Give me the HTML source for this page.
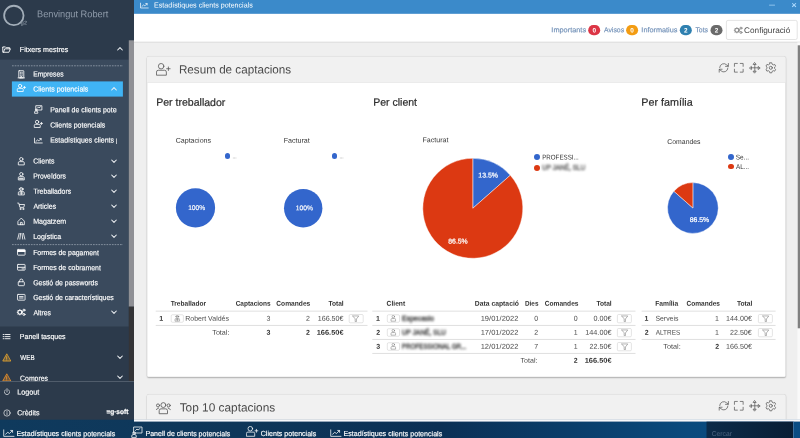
<!DOCTYPE html>
<html lang="ca"><head><meta charset="utf-8"><title>Estadístiques clients potencials</title>
<style>
html,body{margin:0;padding:0;width:800px;height:438px;overflow:hidden;background:#efefef}
body{font-family:"Liberation Sans",sans-serif;position:relative}
.a{position:absolute}
.t{position:absolute;white-space:nowrap;line-height:1}
.blur{filter:blur(1px);-webkit-text-stroke:0.4px currentColor}
.m{-webkit-text-stroke:0.15px currentColor}
.m2{-webkit-text-stroke:0.22px currentColor}
svg{position:absolute;overflow:visible}
.ic{filter:blur(.28px)}
</style></head><body>
<svg style="left:134px;top:0px" width="666" height="422"><rect x="0" y="0" width="666" height="422" fill="#efefef" /></svg><svg style="left:0px;top:0px" width="134" height="422"><rect x="0" y="0" width="134" height="422" fill="#2c3a4b" /></svg><svg style="left:0px;top:59px" width="129" height="268"><rect x="0" y="0.6" width="128.8" height="266.9" fill="#3a4a5d" /></svg><svg style="left:128px;top:40px" width="6" height="267"><rect x="0.8" y="0.3" width="5.2" height="266.4" fill="#8f9095" /></svg><svg style="left:128px;top:306px" width="6" height="76"><rect x="0.8" y="0.7" width="5.2" height="74.8" fill="#343437" /></svg><svg style="left:134px;top:0px" width="666" height="14"><rect x="0" y="0" width="666" height="13.9" fill="#3b8aca" /></svg><svg style="left:134px;top:13px" width="666" height="29"><rect x="0" y="0.9" width="666" height="27.9" fill="#fff" /></svg><svg style="left:134px;top:41px" width="666" height="2"><rect x="0" y="0.8" width="666" height="0.6" fill="#d0d0d0" /></svg><svg style="left:0;top:0" width="32" height="32"><circle cx="13.85" cy="15.45" r="9.7" fill="none" stroke="#a3aeb9" stroke-width="1.8"/></svg><span class="t" style="font-size:5.5px;top:23px;color:#7f8b98;font-weight:700;left:24px;transform:translate(calc(-50% + -0.20px),-2.40px) scaleX(1.000) rotate(.03deg);">g2</span><span class="t" style="font-size:9.8px;top:14px;color:#8f9baa;left:38px;transform-origin:0 50%;transform:translate(-0.95px,-4.75px) scaleX(0.941) rotate(.03deg);">Benvingut Robert</span><svg style="left:1.9px;top:44.6px" width="9.2" height="9.2" viewBox="0 0 24 24" class="ic" ><g fill="none" color="#ffffff" stroke="#ffffff" stroke-width="2.3" stroke-linecap="round" stroke-linejoin="round"><path d="M2 7v12h16l4-9H7l-3 9M2 7V5h7l2 2h9v3"/></g></svg><span class="t m" style="font-size:7.3px;top:49px;color:#ffffff;left:20px;transform-origin:0 50%;transform:translate(-0.15px,-3.00px) scaleX(0.971) rotate(.03deg);">Fitxers mestres</span><svg style="left:116.3px;top:44.5px" width="8" height="8" viewBox="0 0 24 24" class="ic" ><g fill="none" color="#f0f3f6" stroke="#f0f3f6" stroke-width="3.1" stroke-linecap="round" stroke-linejoin="round"><path d="M5 15l7-7 7 7"/></g></svg><svg style="left:12px;top:64px" width="111" height="3"><line x1="0" y1="1.80" x2="111" y2="1.80" stroke="#a3adba" stroke-width="0.7" stroke-dasharray="1.7 1"/></svg><svg style="left:16.7px;top:69.5px" width="8.6" height="8.6" viewBox="0 0 24 24" class="ic" ><g fill="none" color="#ffffff" stroke="#ffffff" stroke-width="2.3" stroke-linecap="round" stroke-linejoin="round"><rect x="5" y="2" width="14" height="20" rx="1"/><path d="M9 6.500h1.500M13.500 6.500h1.500M9 10.500h1.500M13.500 10.500h1.500M9 14.500h1.500M13.500 14.500h1.500M10 22v-3.500h4v3.500M3 22h18"/></g></svg><span class="t m" style="font-size:7.3px;top:74px;color:#ffffff;left:34px;transform-origin:0 50%;transform:translate(-0.85px,-3.40px) scaleX(0.927) rotate(.03deg);">Empreses</span><svg style="left:11px;top:81px" width="112" height="16"><rect x="0.9" y="0.4" width="111" height="15.2" fill="#40b4f5" /></svg><svg style="left:16.7px;top:84.4px" width="8.6" height="8.6" viewBox="0 0 24 24" class="ic" ><g fill="none" color="#ffffff" stroke="#ffffff" stroke-width="2.3" stroke-linecap="round" stroke-linejoin="round"><circle cx="8.600" cy="5.400" r="4.600"/><path d="M0.800 19.800v-4.600a3 3 0 0 1 3-3h10.600a3 3 0 0 1 3 3v4.600z"/><path d="M20.800 6.700v5.800M17.900 9.600h5.800"/></g></svg><span class="t m" style="font-size:7.3px;top:89px;color:#ffffff;left:34px;transform-origin:0 50%;transform:translate(-0.85px,-3.50px) scaleX(0.966) rotate(.03deg);">Clients potencials</span><svg style="left:110.3px;top:84.5px" width="8" height="8" viewBox="0 0 24 24" class="ic" ><g fill="none" color="#f0f3f6" stroke="#f0f3f6" stroke-width="3.1" stroke-linecap="round" stroke-linejoin="round"><path d="M5 15l7-7 7 7"/></g></svg><svg style="left:34.1px;top:105.2px" width="8.6" height="8.6" viewBox="0 0 24 24" class="ic" ><g fill="none" color="#ffffff" stroke="#ffffff" stroke-width="2.3" stroke-linecap="round" stroke-linejoin="round"><rect x="6" y="2" width="16" height="12"/><path d="M9 9l3-3 2 2 4-3"/><circle cx="6" cy="14" r="2.5"/><path d="M1.5 22v-2a3 3 0 0 1 3-3h3a3 3 0 0 1 3 3v2z"/></g></svg><div class="a" style="left:0;top:0;width:117px;height:438px;overflow:hidden"><span class="t m" style="font-size:7.3px;top:110px;color:#ffffff;left:51px;transform-origin:0 50%;transform:translate(-0.85px,-3.70px) scaleX(0.957) rotate(.03deg);">Panell de clients potencials</span></div><svg style="left:34.1px;top:120.4px" width="8.6" height="8.6" viewBox="0 0 24 24" class="ic" ><g fill="none" color="#ffffff" stroke="#ffffff" stroke-width="2.3" stroke-linecap="round" stroke-linejoin="round"><circle cx="8.600" cy="5.400" r="4.600"/><path d="M0.800 19.800v-4.600a3 3 0 0 1 3-3h10.600a3 3 0 0 1 3 3v4.600z"/><path d="M20.800 6.700v5.800M17.900 9.600h5.800"/></g></svg><span class="t m" style="font-size:7.3px;top:125px;color:#ffffff;left:51px;transform-origin:0 50%;transform:translate(-0.85px,-3.50px) scaleX(0.966) rotate(.03deg);">Clients potencials</span><svg style="left:34.1px;top:135.6px" width="8.6" height="8.6" viewBox="0 0 24 24" class="ic" ><g fill="none" color="#ffffff" stroke="#ffffff" stroke-width="2.3" stroke-linecap="round" stroke-linejoin="round"><path d="M1.500 6v13.500h21.500"/><path d="M5.500 15l4.500-4 3.500 2.700 6-6"/><path d="M16 7.200h4v4"/></g></svg><div class="a" style="left:0;top:0;width:117.3px;height:438px;overflow:hidden"><span class="t m" style="font-size:7.3px;top:140px;color:#ffffff;left:51px;transform-origin:0 50%;transform:translate(-0.85px,-3.55px) scaleX(0.960) rotate(.03deg);">Estadístiques clients potencials</span></div><svg style="left:16.7px;top:156.5px" width="8.6" height="8.6" viewBox="0 0 24 24" class="ic" ><g fill="none" color="#ffffff" stroke="#ffffff" stroke-width="2.3" stroke-linecap="round" stroke-linejoin="round"><circle cx="12" cy="6" r="4.600"/><path d="M3.700 21v-5a3 3 0 0 1 3-3h10.600a3 3 0 0 1 3 3v5z"/></g></svg><span class="t m" style="font-size:7.3px;top:161px;color:#ffffff;left:34px;transform-origin:0 50%;transform:translate(-0.85px,-3.40px) scaleX(0.953) rotate(.03deg);">Clients</span><svg style="left:110.3px;top:156.6px" width="8" height="8" viewBox="0 0 24 24" class="ic" ><g fill="none" color="#f0f3f6" stroke="#f0f3f6" stroke-width="3.1" stroke-linecap="round" stroke-linejoin="round"><path d="M5 9l7 7 7-7"/></g></svg><svg style="left:16.7px;top:171.6px" width="8.6" height="8.6" viewBox="0 0 24 24" class="ic" ><g fill="none" color="#ffffff" stroke="#ffffff" stroke-width="2.3" stroke-linecap="round" stroke-linejoin="round"><circle cx="12" cy="6" r="4.600"/><path d="M3.700 21v-5a3 3 0 0 1 3-3h10.600a3 3 0 0 1 3 3v5z"/><path d="M7 17.500h10M7 19.500h10"/></g></svg><span class="t m" style="font-size:7.3px;top:176px;color:#ffffff;left:34px;transform-origin:0 50%;transform:translate(-0.85px,-3.55px) scaleX(0.930) rotate(.03deg);">Proveïdors</span><svg style="left:110.3px;top:171.7px" width="8" height="8" viewBox="0 0 24 24" class="ic" ><g fill="none" color="#f0f3f6" stroke="#f0f3f6" stroke-width="3.1" stroke-linecap="round" stroke-linejoin="round"><path d="M5 9l7 7 7-7"/></g></svg><svg style="left:16.7px;top:186.8px" width="8.6" height="8.6" viewBox="0 0 24 24" class="ic" ><g fill="none" color="#ffffff" stroke="#ffffff" stroke-width="2.3" stroke-linecap="round" stroke-linejoin="round"><circle cx="12" cy="6" r="4.600"/><path d="M6 5.500h12"/><path d="M3.700 21v-5a3 3 0 0 1 3-3h10.600a3 3 0 0 1 3 3v5z"/><path d="M12 13.500v7.500M8 17h8"/></g></svg><span class="t m" style="font-size:7.3px;top:191px;color:#ffffff;left:34px;transform-origin:0 50%;transform:translate(-0.60px,-3.35px) scaleX(0.936) rotate(.03deg);">Treballadors</span><svg style="left:110.3px;top:186.9px" width="8" height="8" viewBox="0 0 24 24" class="ic" ><g fill="none" color="#f0f3f6" stroke="#f0f3f6" stroke-width="3.1" stroke-linecap="round" stroke-linejoin="round"><path d="M5 9l7 7 7-7"/></g></svg><svg style="left:16.7px;top:201.8px" width="8.6" height="8.6" viewBox="0 0 24 24" class="ic" ><g fill="none" color="#ffffff" stroke="#ffffff" stroke-width="2.3" stroke-linecap="round" stroke-linejoin="round"><path d="M2 3h3l3 12h11l2-8H7"/><circle cx="9.5" cy="19.5" r="1.6"/><circle cx="17.5" cy="19.5" r="1.6"/></g></svg><span class="t m" style="font-size:7.3px;top:206px;color:#ffffff;left:34px;transform-origin:0 50%;transform:translate(-0.60px,-3.35px) scaleX(0.949) rotate(.03deg);">Articles</span><svg style="left:110.3px;top:201.9px" width="8" height="8" viewBox="0 0 24 24" class="ic" ><g fill="none" color="#f0f3f6" stroke="#f0f3f6" stroke-width="3.1" stroke-linecap="round" stroke-linejoin="round"><path d="M5 9l7 7 7-7"/></g></svg><svg style="left:16.7px;top:216.8px" width="8.6" height="8.6" viewBox="0 0 24 24" class="ic" ><g fill="none" color="#ffffff" stroke="#ffffff" stroke-width="2.3" stroke-linecap="round" stroke-linejoin="round"><path d="M3.500 11.500l8.500-8.500 8.500 8.500v10h-17z"/><path d="M9.500 21.500v-6.500h5v6.500"/></g></svg><span class="t m" style="font-size:7.3px;top:221px;color:#ffffff;left:34px;transform-origin:0 50%;transform:translate(-0.85px,-3.35px) scaleX(0.971) rotate(.03deg);">Magatzem</span><svg style="left:110.3px;top:216.9px" width="8" height="8" viewBox="0 0 24 24" class="ic" ><g fill="none" color="#f0f3f6" stroke="#f0f3f6" stroke-width="3.1" stroke-linecap="round" stroke-linejoin="round"><path d="M5 9l7 7 7-7"/></g></svg><svg style="left:16.7px;top:232.1px" width="8.6" height="8.6" viewBox="0 0 24 24" class="ic" ><g fill="none" color="#ffffff" stroke="#ffffff" stroke-width="2.3" stroke-linecap="round" stroke-linejoin="round"><path d="M6 4L2 20M18 4l4 16M10 4L8 20M14 4l2 16"/></g></svg><span class="t m" style="font-size:7.3px;top:237px;color:#ffffff;left:34px;transform-origin:0 50%;transform:translate(-0.85px,-4.05px) scaleX(0.959) rotate(.03deg);">Logística</span><svg style="left:110.3px;top:232.2px" width="8" height="8" viewBox="0 0 24 24" class="ic" ><g fill="none" color="#f0f3f6" stroke="#f0f3f6" stroke-width="3.1" stroke-linecap="round" stroke-linejoin="round"><path d="M5 9l7 7 7-7"/></g></svg><svg style="left:12px;top:243px" width="111" height="3"><line x1="0" y1="1.60" x2="111" y2="1.60" stroke="#a3adba" stroke-width="0.7" stroke-dasharray="1.7 1"/></svg><svg style="left:16.7px;top:248px" width="8.6" height="8.6" viewBox="0 0 24 24" class="ic" ><g fill="none" color="#ffffff" stroke="#ffffff" stroke-width="2.3" stroke-linecap="round" stroke-linejoin="round"><rect x="1.500" y="4" width="21" height="16" rx="1.500"/><path d="M2 7h20M2 9.500h20" stroke-width="3"/></g></svg><span class="t m" style="font-size:7.3px;top:252px;color:#ffffff;left:34px;transform-origin:0 50%;transform:translate(-0.85px,-2.90px) scaleX(0.947) rotate(.03deg);">Formes de pagament</span><svg style="left:16.7px;top:263px" width="8.6" height="8.6" viewBox="0 0 24 24" class="ic" ><g fill="none" color="#ffffff" stroke="#ffffff" stroke-width="2.3" stroke-linecap="round" stroke-linejoin="round"><rect x="1.500" y="4" width="21" height="16" rx="1.500"/><path d="M2 12h20" stroke-width="2.600"/><path d="M14 16.500h5"/></g></svg><span class="t m" style="font-size:7.3px;top:268px;color:#ffffff;left:34px;transform-origin:0 50%;transform:translate(-0.85px,-3.90px) scaleX(0.948) rotate(.03deg);">Formes de cobrament</span><svg style="left:16.7px;top:278.2px" width="8.6" height="8.6" viewBox="0 0 24 24" class="ic" ><g fill="none" color="#ffffff" stroke="#ffffff" stroke-width="2.3" stroke-linecap="round" stroke-linejoin="round"><rect x="3.500" y="10.500" width="17" height="11" rx="2"/><path d="M7.500 10.500V7.500a4.500 4.500 0 0 1 9 0v3"/></g></svg><span class="t m" style="font-size:7.3px;top:283px;color:#ffffff;left:34px;transform-origin:0 50%;transform:translate(-0.85px,-3.70px) scaleX(0.951) rotate(.03deg);">Gestió de passwords</span><svg style="left:16.7px;top:293.1px" width="8.6" height="8.6" viewBox="0 0 24 24" class="ic" ><g fill="none" color="#ffffff" stroke="#ffffff" stroke-width="2.3" stroke-linecap="round" stroke-linejoin="round"><rect x="1.500" y="4" width="21" height="16" rx="1.500"/><path d="M7 10h10M7 14h10" stroke-width="2.400"/></g></svg><span class="t m" style="font-size:7.3px;top:298px;color:#ffffff;left:34px;transform-origin:0 50%;transform:translate(-0.85px,-4.05px) scaleX(0.951) rotate(.03deg);">Gestió de característiques</span><svg style="left:16.7px;top:308.3px" width="8.6" height="8.6" viewBox="0 0 24 24" class="ic" ><g fill="none" color="#ffffff" stroke="#ffffff" stroke-width="2.3" stroke-linecap="round" stroke-linejoin="round"><circle cx="8" cy="12" r="5.500" stroke-width="3"/><path d="M8 4.500v2M8 17.500v2M0.500 12h2M13.500 12h2M2.700 6.700l1.400 1.400M11.900 15.900l1.400 1.400M2.700 17.300l1.400-1.400M11.900 8.100l1.400-1.400"/><circle cx="19.500" cy="6" r="2.800" stroke-width="2.600"/><circle cx="19.500" cy="18" r="2.800" stroke-width="2.600"/><path d="M13.500 12l3.500-4M13.500 12l3.500 4"/></g></svg><span class="t m" style="font-size:7.3px;top:313px;color:#ffffff;left:34px;transform-origin:0 50%;transform:translate(-0.60px,-3.85px) scaleX(0.939) rotate(.03deg);">Altres</span><svg style="left:110.3px;top:308.4px" width="8" height="8" viewBox="0 0 24 24" class="ic" ><g fill="none" color="#f0f3f6" stroke="#f0f3f6" stroke-width="3.1" stroke-linecap="round" stroke-linejoin="round"><path d="M5 9l7 7 7-7"/></g></svg><svg style="left:1.9px;top:331.8px" width="9.2" height="9.2" viewBox="0 0 24 24" class="ic" ><g fill="none" color="#ffffff" stroke="#ffffff" stroke-width="2.3" stroke-linecap="round" stroke-linejoin="round"><path d="M9 6.500h12M9 12h12M9 17.500h12M3 6.500h2.500M3 12h2.500M3 17.500h2.500"/></g></svg><span class="t m" style="font-size:7.3px;top:337px;color:#ffffff;left:20px;transform-origin:0 50%;transform:translate(-0.15px,-4.05px) scaleX(0.956) rotate(.03deg);">Panell tasques</span><svg style="left:1.9px;top:352.8px" width="9.2" height="9.2" viewBox="0 0 24 24" class="ic" ><g fill="none" color="#e0a030" stroke="#e0a030" stroke-width="2.3" stroke-linecap="round" stroke-linejoin="round"><path d="M12 3L2 21h20z" fill="currentColor" fill-opacity=".35"/><path d="M12 9.500v5.500M12 18v.5"/></g></svg><span class="t m" style="font-size:7.3px;top:358px;color:#ffffff;left:20px;transform-origin:0 50%;transform:translate(0.35px,-4.05px) scaleX(0.855) rotate(.03deg);">WEB</span><svg style="left:116.3px;top:352.7px" width="8" height="8" viewBox="0 0 24 24" class="ic" ><g fill="none" color="#f0f3f6" stroke="#f0f3f6" stroke-width="3.1" stroke-linecap="round" stroke-linejoin="round"><path d="M5 9l7 7 7-7"/></g></svg><svg style="left:1.9px;top:373.4px" width="9.2" height="9.2" viewBox="0 0 24 24" class="ic" ><g fill="none" color="#e8902a" stroke="#e8902a" stroke-width="2.3" stroke-linecap="round" stroke-linejoin="round"><path d="M12 3L2 21h20z" fill="currentColor" fill-opacity=".35"/><path d="M12 9.500v5.500M12 18v.5"/></g></svg><span class="t m" style="font-size:7.3px;top:378px;color:#ffffff;left:20px;transform-origin:0 50%;transform:translate(0.10px,-3.20px) scaleX(0.941) rotate(.03deg);">Compres</span><svg style="left:116.3px;top:373.3px" width="8" height="8" viewBox="0 0 24 24" class="ic" ><g fill="none" color="#f0f3f6" stroke="#f0f3f6" stroke-width="3.1" stroke-linecap="round" stroke-linejoin="round"><path d="M5 9l7 7 7-7"/></g></svg><svg style="left:0px;top:381px" width="134" height="41"><rect x="0" y="0.2" width="134" height="40.8" fill="#2c3a4b" /></svg><svg style="left:0px;top:381px" width="134" height="1"><rect x="0" y="0.2" width="134" height="0.6" fill="#6a7582" /></svg><svg style="left:2.5px;top:388px" width="8" height="8" viewBox="0 0 24 24" class="ic" ><g fill="none" color="#ffffff" stroke="#ffffff" stroke-width="1.9" stroke-linecap="round" stroke-linejoin="round"><path d="M12 2v10"/><path d="M7 5.5a8 8 0 1 0 10 0"/></g></svg><span class="t m" style="font-size:7.3px;top:392px;color:#ffffff;left:18px;transform-origin:0 50%;transform:translate(-0.85px,-3.55px) scaleX(0.993) rotate(.03deg);">Logout</span><svg style="left:2.5px;top:408.7px" width="8" height="8" viewBox="0 0 24 24" class="ic" ><g fill="none" color="#ffffff" stroke="#ffffff" stroke-width="1.9" stroke-linecap="round" stroke-linejoin="round"><circle cx="12" cy="12" r="9.5"/><path d="M12 11v6M12 7v.5"/></g></svg><span class="t m" style="font-size:7.3px;top:413px;color:#ffffff;left:18px;transform-origin:0 50%;transform:translate(-0.85px,-3.85px) scaleX(0.972) rotate(.03deg);">Crèdits</span><span class="t m2" style="font-size:7px;top:412px;color:#ffffff;font-weight:700;left:107px;transform-origin:0 50%;transform:translate(-0.60px,-4.05px) scaleX(0.931) rotate(.03deg);">≡g·soft</span><svg style="left:139.9px;top:0.5px" width="8.6" height="8.6" viewBox="0 0 24 24" class="ic" ><g fill="none" color="#ffffff" stroke="#ffffff" stroke-width="2" stroke-linecap="round" stroke-linejoin="round"><path d="M1.500 6v13.500h21.500"/><path d="M5.500 15l4.500-4 3.500 2.700 6-6"/><path d="M16 7.200h4v4"/></g></svg><span class="t" style="font-size:7.2px;top:5px;color:#ffffff;left:154px;transform-origin:0 50%;transform:translate(0.00px,-3.60px) scaleX(0.989) rotate(.03deg);">Estadístiques clients potencials</span><span class="t" style="font-size:8px;top:4px;color:#9ccdf3;font-weight:700;left:772px;transform:translate(calc(-50% + -0.03px),-2.85px) scaleX(1.478) rotate(.03deg);">–</span><span class="t" style="font-size:8.8px;top:5px;color:#b0dcff;font-weight:700;left:794px;transform:translate(calc(-50% + 0.00px),-4.00px) scaleX(1.000) rotate(.03deg);">×</span><svg style="left:797px;top:42px" width="3" height="380"><rect x="0.4" y="0.4" width="2.6" height="379" fill="#f9f9f9" /></svg><svg style="left:797px;top:45px" width="3" height="284"><rect x="0.7" y="0.3" width="2.3" height="283" fill="#808080" /></svg><span class="t m" style="font-size:7.1px;top:30px;color:#7190b7;left:552px;transform-origin:0 50%;transform:translate(-0.65px,-2.75px) scaleX(1.036) rotate(.03deg);">Importants</span><svg style="left:588px;top:25px" width="13" height="11"><rect x="0.2" y="0.1" width="12" height="10.2" fill="#dc3545" rx="5.1" /></svg><span class="t" style="font-size:6.4px;top:30px;color:#ffffff;font-weight:700;left:594px;transform:translate(calc(-50% + 0.18px),-2.50px) scaleX(1.000) rotate(.03deg);">0</span><span class="t m" style="font-size:7.1px;top:30px;color:#7190b7;left:604px;transform-origin:0 50%;transform:translate(0.00px,-2.75px) scaleX(0.966) rotate(.03deg);">Avisos</span><svg style="left:626px;top:25px" width="13" height="11"><rect x="0.1" y="0.1" width="12" height="10.2" fill="#f39c12" rx="5.1" /></svg><span class="t" style="font-size:6.4px;top:30px;color:#ffffff;font-weight:700;left:632px;transform:translate(calc(-50% + 0.15px),-2.50px) scaleX(1.000) rotate(.03deg);">0</span><span class="t m" style="font-size:7.1px;top:30px;color:#7190b7;left:642px;transform-origin:0 50%;transform:translate(-0.65px,-2.75px) scaleX(1.029) rotate(.03deg);">Informatius</span><svg style="left:679px;top:25px" width="13" height="11"><rect x="0.8" y="0.1" width="12" height="10.2" fill="#2f80b0" rx="5.1" /></svg><span class="t" style="font-size:6.4px;top:30px;color:#ffffff;font-weight:700;left:686px;transform:translate(calc(-50% + -0.18px),-2.50px) scaleX(1.000) rotate(.03deg);">2</span><span class="t m" style="font-size:7.1px;top:30px;color:#7190b7;left:696px;transform-origin:0 50%;transform:translate(-0.60px,-2.75px) scaleX(0.965) rotate(.03deg);">Tots</span><svg style="left:710px;top:25px" width="13" height="11"><rect x="0.5" y="0.1" width="12" height="10.2" fill="#6a6a6a" rx="5.1" /></svg><span class="t" style="font-size:6.4px;top:30px;color:#ffffff;font-weight:700;left:716px;transform:translate(calc(-50% + 0.62px),-2.50px) scaleX(1.000) rotate(.03deg);">2</span><svg style="left:725px;top:19px" width="74" height="23"><rect x="1.40" y="1.40" width="70.80" height="19.10" rx="1.6" fill="#fff" stroke="#d2d2d2" stroke-width="0.6"/></svg><svg style="left:733.5px;top:25.9px" width="8.6" height="8.6" viewBox="0 0 24 24" class="ic" ><g fill="none" color="#8a8a8a" stroke="#8a8a8a" stroke-width="2" stroke-linecap="round" stroke-linejoin="round"><circle cx="8" cy="12" r="5.500" stroke-width="3"/><path d="M8 4.500v2M8 17.500v2M0.500 12h2M13.500 12h2M2.700 6.700l1.400 1.400M11.900 15.900l1.400 1.400M2.700 17.300l1.400-1.400M11.900 8.100l1.400-1.400"/><circle cx="19.500" cy="6" r="2.800" stroke-width="2.600"/><circle cx="19.500" cy="18" r="2.800" stroke-width="2.600"/><path d="M13.500 12l3.500-4M13.500 12l3.500 4"/></g></svg><span class="t" style="font-size:8.2px;top:30px;color:#444;left:744px;transform-origin:0 50%;transform:translate(0.10px,-2.90px) scaleX(1.004) rotate(.03deg);">Configuració</span><div class="a" style="left:147.1px;top:56.5px;width:638.5px;height:320.4px;border-radius:2px;box-shadow:0 0.3px 1.4px rgba(0,0,0,.30)"></div><svg style="left:140px;top:53px" width="655" height="331" viewBox="140 53 655 331"><rect x="146.8" y="56.2" width="639.1" height="321" rx="1.7" fill="#cfcfcf"/><rect x="147.3" y="56.7" width="638.1" height="320" rx="1.3" fill="#fff"/><path d="M147.3 82.5 v-24.5 a1.3 1.3 0 0 1 1.3 -1.3 h635.5 a1.3 1.3 0 0 1 1.3 1.3 v24.5 z" fill="#f1f1f1"/><rect x="147.3" y="82.5" width="638.1" height="0.5" fill="#dedede"/></svg><svg style="left:155.75px;top:62.7px" width="14.3" height="14.3" viewBox="0 0 24 24" class="ic" ><g fill="none" color="#585858" stroke="#585858" stroke-width="1.35" stroke-linecap="round" stroke-linejoin="round"><circle cx="8.600" cy="5.400" r="4.600"/><path d="M0.800 19.800v-4.600a3 3 0 0 1 3-3h10.600a3 3 0 0 1 3 3v4.600z"/><path d="M20.800 6.700v5.800M17.900 9.600h5.800"/></g></svg><span class="t" style="font-size:11.9px;top:70px;color:#4a4a4a;left:180px;transform-origin:0 50%;transform:translate(-1.05px,-5.45px) scaleX(0.981) rotate(.03deg);">Resum de captacions</span><svg style="left:717.7px;top:61.8px" width="11.6" height="11.6" viewBox="0 0 24 24" class="ic" ><g fill="none" color="#555" stroke="#555" stroke-width="1.5" stroke-linecap="round" stroke-linejoin="round"><path d="M3.500 11.500a8.500 8.500 0 0 1 14.500-5.500l3 2.500"/><path d="M21.500 3v6h-6"/><path d="M20.500 12.500a8.500 8.500 0 0 1-14.500 5.500l-3-2.500"/><path d="M2.500 21v-6h6"/></g></svg><svg style="left:733px;top:61.8px" width="11.6" height="11.6" viewBox="0 0 24 24" class="ic" ><g fill="none" color="#555" stroke="#555" stroke-width="1.5" stroke-linecap="round" stroke-linejoin="round"><path d="M3 9V3h6M15 3h6v6M21 15v6h-6M9 21H3v-6"/></g></svg><svg style="left:749px;top:61.8px" width="11.6" height="11.6" viewBox="0 0 24 24" class="ic" ><g fill="none" color="#555" stroke="#555" stroke-width="1.5" stroke-linecap="round" stroke-linejoin="round"><path d="M12 5v14M5 12h14"/><path d="M12 1.500l2.800 3.500h-5.600zM12 22.500l2.800-3.500h-5.600zM1.500 12l3.500-2.800v5.600zM22.500 12l-3.500-2.800v5.600z"/></g></svg><svg style="left:765px;top:61.8px" width="11.6" height="11.6" viewBox="0 0 24 24" class="ic" ><g fill="none" color="#555" stroke="#555" stroke-width="1.5" stroke-linecap="round" stroke-linejoin="round"><circle cx="12" cy="12" r="3.2"/><path d="M10.0 1.6L14.0 1.6L14.6 4.4L17.2 6.0L20.0 5.0L22.0 8.5L19.9 10.5L19.9 13.5L22.0 15.5L20.0 19.0L17.2 18.0L14.6 19.6L14.0 22.4L10.0 22.4L9.4 19.6L6.8 18.0L4.0 19.0L2.0 15.5L4.1 13.5L4.1 10.5L2.0 8.5L4.0 5.0L6.8 6.0L9.4 4.4Z"/></g></svg><div class="a" style="left:147.1px;top:394.5px;width:638.5px;height:59.4px;border-radius:2px;box-shadow:0 0.3px 1.4px rgba(0,0,0,.30)"></div><svg style="left:140px;top:391px" width="655" height="70" viewBox="140 391 655 70"><rect x="146.8" y="394.2" width="639.1" height="60" rx="1.7" fill="#cfcfcf"/><rect x="147.3" y="394.7" width="638.1" height="59" rx="1.3" fill="#fff"/><path d="M147.3 420.5 v-24.5 a1.3 1.3 0 0 1 1.3 -1.3 h635.5 a1.3 1.3 0 0 1 1.3 1.3 v24.5 z" fill="#f1f1f1"/><rect x="147.3" y="420.5" width="638.1" height="0.5" fill="#dedede"/></svg><svg style="left:156px;top:401.5px" width="14.7" height="14.7" viewBox="0 0 24 24" class="ic" ><g fill="none" color="#585858" stroke="#585858" stroke-width="1.35" stroke-linecap="round" stroke-linejoin="round"><circle cx="12" cy="5" r="4"/><circle cx="3.300" cy="5.600" r="2.500"/><circle cx="20.700" cy="5.600" r="2.500"/><path d="M5.200 18.500v-4.300a3 3 0 0 1 3-3h7.600a3 3 0 0 1 3 3v4.300z"/><path d="M0.600 12.200l3.800-2.400M23.400 12.200l-3.800-2.400"/></g></svg><span class="t" style="font-size:11.9px;top:408px;color:#4a4a4a;left:180px;transform-origin:0 50%;transform:translate(-0.30px,-5.45px) scaleX(0.996) rotate(.03deg);">Top 10 captacions</span><svg style="left:717.7px;top:399.8px" width="11.6" height="11.6" viewBox="0 0 24 24" class="ic" ><g fill="none" color="#555" stroke="#555" stroke-width="1.5" stroke-linecap="round" stroke-linejoin="round"><path d="M3.500 11.500a8.500 8.500 0 0 1 14.500-5.500l3 2.500"/><path d="M21.500 3v6h-6"/><path d="M20.500 12.500a8.500 8.500 0 0 1-14.500 5.500l-3-2.500"/><path d="M2.500 21v-6h6"/></g></svg><svg style="left:733px;top:399.8px" width="11.6" height="11.6" viewBox="0 0 24 24" class="ic" ><g fill="none" color="#555" stroke="#555" stroke-width="1.5" stroke-linecap="round" stroke-linejoin="round"><path d="M3 9V3h6M15 3h6v6M21 15v6h-6M9 21H3v-6"/></g></svg><svg style="left:749px;top:399.8px" width="11.6" height="11.6" viewBox="0 0 24 24" class="ic" ><g fill="none" color="#555" stroke="#555" stroke-width="1.5" stroke-linecap="round" stroke-linejoin="round"><path d="M12 5v14M5 12h14"/><path d="M12 1.500l2.800 3.500h-5.600zM12 22.500l2.800-3.500h-5.600zM1.500 12l3.500-2.800v5.600zM22.500 12l-3.500-2.800v5.600z"/></g></svg><svg style="left:765px;top:399.8px" width="11.6" height="11.6" viewBox="0 0 24 24" class="ic" ><g fill="none" color="#555" stroke="#555" stroke-width="1.5" stroke-linecap="round" stroke-linejoin="round"><circle cx="12" cy="12" r="3.2"/><path d="M10.0 1.6L14.0 1.6L14.6 4.4L17.2 6.0L20.0 5.0L22.0 8.5L19.9 10.5L19.9 13.5L22.0 15.5L20.0 19.0L17.2 18.0L14.6 19.6L14.0 22.4L10.0 22.4L9.4 19.6L6.8 18.0L4.0 19.0L2.0 15.5L4.1 13.5L4.1 10.5L2.0 8.5L4.0 5.0L6.8 6.0L9.4 4.4Z"/></g></svg><span class="t m2" style="font-size:10.7px;top:102px;color:#2f2f2f;left:157px;transform-origin:0 50%;transform:translate(-0.85px,-5.15px) scaleX(0.987) rotate(.03deg);">Per treballador</span><span class="t m2" style="font-size:10.7px;top:102px;color:#2f2f2f;left:374px;transform-origin:0 50%;transform:translate(-0.75px,-5.15px) scaleX(0.982) rotate(.03deg);">Per client</span><span class="t m2" style="font-size:10.7px;top:102px;color:#2f2f2f;left:642px;transform-origin:0 50%;transform:translate(-0.75px,-5.15px) scaleX(1.006) rotate(.03deg);">Per família</span><span class="t" style="font-size:6.9px;top:140px;color:#333;left:176px;transform-origin:0 50%;transform:translate(-0.35px,-2.30px) scaleX(1.028) rotate(.03deg);">Captacions</span><span class="t" style="font-size:6.9px;top:140px;color:#333;left:284px;transform-origin:0 50%;transform:translate(-0.35px,-2.30px) scaleX(1.029) rotate(.03deg);">Facturat</span><span class="t" style="font-size:6.9px;top:140px;color:#333;left:423px;transform-origin:0 50%;transform:translate(-0.50px,-2.80px) scaleX(1.023) rotate(.03deg);">Facturat</span><span class="t" style="font-size:6.9px;top:142px;color:#333;left:668px;transform-origin:0 50%;transform:translate(-0.70px,-3.00px) scaleX(0.998) rotate(.03deg);">Comandes</span><svg style="left:0;top:0" width="800" height="438" viewBox="0 0 800 438"><circle cx="195.5" cy="207.8" r="19.6" fill="#3366cc"/></svg><span class="t m" style="font-size:6.9px;top:208px;color:#ffffff;left:197px;transform:translate(calc(-50% + -0.30px),-3.00px) scaleX(0.972) rotate(.03deg);">100%</span><svg style="left:0;top:0" width="800" height="438" viewBox="0 0 800 438"><circle cx="303.2" cy="208.2" r="19.2" fill="#3366cc"/></svg><span class="t m" style="font-size:6.9px;top:208px;color:#ffffff;left:304px;transform:translate(calc(-50% + 0.35px),-2.80px) scaleX(0.973) rotate(.03deg);">100%</span><div class="a" style="left:224.7px;top:152.9px;width:5.8px;height:5.8px;border-radius:50%;background:#3366cc"></div><span class="t" style="font-size:5px;top:156px;color:#555;left:233px;transform-origin:0 50%;transform:translate(-0.50px,-1.75px) scaleX(1.000) rotate(.03deg);">...</span><div class="a" style="left:331.5px;top:152.9px;width:5.8px;height:5.8px;border-radius:50%;background:#3366cc"></div><span class="t" style="font-size:5px;top:156px;color:#555;left:340px;transform-origin:0 50%;transform:translate(-0.50px,-1.75px) scaleX(1.000) rotate(.03deg);">...</span><svg style="left:0;top:0" width="800" height="438" viewBox="0 0 800 438"><path d="M472.8 208.3 L472.800 158.300 A50 50 0 0 1 510.306 175.234 Z" fill="#3366cc" stroke="#fff" stroke-width="0.45" stroke-linejoin="round"/><path d="M472.8 208.3 L510.306 175.234 A50 50 0 1 1 472.800 158.300 Z" fill="#dc3912" stroke="#fff" stroke-width="0.45" stroke-linejoin="round"/></svg><span class="t m2" style="font-size:6.9px;top:175px;color:#ffffff;left:488px;transform:translate(calc(-50% + 0.20px),-2.45px) scaleX(1.010) rotate(.03deg);">13.5%</span><span class="t m2" style="font-size:6.9px;top:241px;color:#ffffff;left:458px;transform:translate(calc(-50% + 0.00px),-2.45px) scaleX(0.996) rotate(.03deg);">86.5%</span><div class="a" style="left:533.7px;top:154.2px;width:6px;height:6px;border-radius:50%;background:#3366cc"></div><span class="t" style="font-size:6.9px;top:157px;color:#333;left:543px;transform-origin:0 50%;transform:translate(-0.85px,-2.50px) scaleX(0.900) rotate(.03deg);">PROFESSI...</span><div class="a" style="left:533.7px;top:164.6px;width:6px;height:6px;border-radius:50%;background:#dc3912"></div><span class="t blur" style="font-size:6.9px;top:168px;color:#6a6a6a;left:543px;transform-origin:0 50%;transform:translate(-0.85px,-3.10px) scaleX(0.931) rotate(.03deg);">UP JANÉ, SLU</span><svg style="left:0;top:0" width="800" height="438" viewBox="0 0 800 438"><path d="M692.9 208 L692.900 182.600 A25.4 25.4 0 1 1 673.847 191.203 Z" fill="#3366cc" stroke="#fff" stroke-width="0.45" stroke-linejoin="round"/><path d="M692.9 208 L673.847 191.203 A25.4 25.4 0 0 1 692.900 182.600 Z" fill="#dc3912" stroke="#fff" stroke-width="0.45" stroke-linejoin="round"/></svg><span class="t m2" style="font-size:6.9px;top:220px;color:#ffffff;left:700px;transform:translate(calc(-50% + -0.50px),-3.00px) scaleX(0.996) rotate(.03deg);">86.5%</span><div class="a" style="left:727.9px;top:154.1px;width:5.8px;height:5.8px;border-radius:50%;background:#3366cc"></div><span class="t" style="font-size:6.9px;top:157px;color:#333;left:736px;transform-origin:0 50%;transform:translate(-0.20px,-2.50px) scaleX(0.936) rotate(.03deg);">Se...</span><div class="a" style="left:727.9px;top:163.7px;width:5.8px;height:5.8px;border-radius:50%;background:#dc3912"></div><span class="t" style="font-size:6.9px;top:167px;color:#333;left:736px;transform-origin:0 50%;transform:translate(0.05px,-3.00px) scaleX(0.916) rotate(.03deg);">AL...</span><span class="t" style="font-size:7px;top:304px;color:#333;font-weight:700;left:171px;transform-origin:0 50%;transform:translate(-0.35px,-4.25px) scaleX(0.936) rotate(.03deg);">Treballador</span><span class="t" style="font-size:7px;top:304px;color:#333;font-weight:700;right:530px;transform-origin:100% 50%;transform:translate(0.95px,-4.25px) scaleX(0.929) rotate(.03deg);">Captacions</span><span class="t" style="font-size:7px;top:304px;color:#333;font-weight:700;right:490px;transform-origin:100% 50%;transform:translate(0.50px,-4.25px) scaleX(0.949) rotate(.03deg);">Comandes</span><span class="t" style="font-size:7px;top:304px;color:#333;font-weight:700;right:457px;transform-origin:100% 50%;transform:translate(0.45px,-4.25px) scaleX(0.942) rotate(.03deg);">Total</span><svg style="left:155px;top:310px" width="213" height="2"><rect x="0.7" y="0.75" width="211.8" height="0.7" fill="#d2d2d2" /></svg><span class="t" style="font-size:7px;top:318px;color:#333;font-weight:700;left:161px;transform:translate(calc(-50% + 0.20px),-3.20px) scaleX(1.000) rotate(.03deg);">1</span><svg style="left:170px;top:313px" width="16" height="11"><rect x="1.20" y="1.75" width="12.20" height="7.50" rx="1.2" fill="#fff" stroke="#c8c8c8" stroke-width="0.5"/></svg><svg style="left:174px;top:315.3px" width="6.6" height="6.6" viewBox="0 0 24 24" class="ic" ><g fill="none" color="#707070" stroke="#707070" stroke-width="1.8" stroke-linecap="round" stroke-linejoin="round"><circle cx="12" cy="6" r="4.600"/><path d="M6 5.500h12"/><path d="M3.700 21v-5a3 3 0 0 1 3-3h10.600a3 3 0 0 1 3 3v5z"/><path d="M12 13.500v7.500M8 17h8"/></g></svg><span class="t" style="font-size:7px;top:318px;color:#4a4a4a;left:186px;transform-origin:0 50%;transform:translate(-0.80px,-3.20px) scaleX(0.998) rotate(.03deg);">Robert Valdés</span><span class="t" style="font-size:7px;top:318px;color:#4a4a4a;right:530px;transform-origin:100% 50%;transform:translate(0.50px,-3.20px) scaleX(1.000) rotate(.03deg);">3</span><span class="t" style="font-size:7px;top:318px;color:#4a4a4a;right:490px;transform-origin:100% 50%;transform:translate(0.00px,-3.20px) scaleX(1.000) rotate(.03deg);">2</span><span class="t" style="font-size:7px;top:318px;color:#4a4a4a;right:457px;transform-origin:100% 50%;transform:translate(0.20px,-3.20px) scaleX(1.018) rotate(.03deg);">166.50€</span><svg style="left:348px;top:313px" width="17" height="12"><rect x="1.20" y="1.50" width="14.00" height="8.30" rx="1.2" fill="#fff" stroke="#c8c8c8" stroke-width="0.5"/></svg><svg style="left:352.4px;top:315px" width="7.6" height="7.6" viewBox="0 0 24 24" class="ic" ><g fill="none" color="#7c7c7c" stroke="#7c7c7c" stroke-width="1.8" stroke-linecap="round" stroke-linejoin="round"><path d="M2.500 3h19l-7.500 9.500v8.500h-4v-8.500z"/></g></svg><svg style="left:155px;top:324px" width="213" height="2"><rect x="0.7" y="0.95" width="211.8" height="0.7" fill="#d2d2d2" /></svg><span class="t" style="font-size:7px;top:332px;color:#4a4a4a;right:571px;transform-origin:100% 50%;transform:translate(0.70px,-3.20px) scaleX(1.024) rotate(.03deg);">Total:</span><span class="t" style="font-size:7px;top:332px;color:#333;font-weight:700;right:530px;transform-origin:100% 50%;transform:translate(0.55px,-3.20px) scaleX(1.000) rotate(.03deg);">3</span><span class="t" style="font-size:7px;top:332px;color:#333;font-weight:700;right:490px;transform-origin:100% 50%;transform:translate(-0.10px,-3.20px) scaleX(1.000) rotate(.03deg);">2</span><span class="t" style="font-size:7px;top:332px;color:#333;font-weight:700;right:457px;transform-origin:100% 50%;transform:translate(0.20px,-3.20px) scaleX(1.059) rotate(.03deg);">166.50€</span><span class="t" style="font-size:7px;top:304px;color:#333;font-weight:700;left:387px;transform-origin:0 50%;transform:translate(-0.40px,-4.25px) scaleX(0.954) rotate(.03deg);">Client</span><span class="t" style="font-size:7px;top:304px;color:#333;font-weight:700;right:281px;transform-origin:100% 50%;transform:translate(0.40px,-4.25px) scaleX(0.968) rotate(.03deg);">Data captació</span><span class="t" style="font-size:7px;top:304px;color:#333;font-weight:700;right:262px;transform-origin:100% 50%;transform:translate(0.65px,-4.25px) scaleX(0.911) rotate(.03deg);">Dies</span><span class="t" style="font-size:7px;top:304px;color:#333;font-weight:700;right:222px;transform-origin:100% 50%;transform:translate(0.70px,-4.25px) scaleX(0.942) rotate(.03deg);">Comandes</span><span class="t" style="font-size:7px;top:304px;color:#333;font-weight:700;right:189px;transform-origin:100% 50%;transform:translate(0.45px,-4.25px) scaleX(0.942) rotate(.03deg);">Total</span><svg style="left:372px;top:310px" width="264" height="2"><rect x="0.3" y="0.75" width="263.2" height="0.7" fill="#d2d2d2" /></svg><span class="t" style="font-size:7px;top:318px;color:#333;font-weight:700;left:378px;transform:translate(calc(-50% + 0.03px),-3.20px) scaleX(1.000) rotate(.03deg);">1</span><svg style="left:386px;top:313px" width="16" height="11"><rect x="1.30" y="1.75" width="12.20" height="7.50" rx="1.2" fill="#fff" stroke="#c8c8c8" stroke-width="0.5"/></svg><svg style="left:390.1px;top:315.3px" width="6.6" height="6.6" viewBox="0 0 24 24" class="ic" ><g fill="none" color="#707070" stroke="#707070" stroke-width="1.8" stroke-linecap="round" stroke-linejoin="round"><circle cx="12" cy="6" r="4.600"/><path d="M3.700 21v-5a3 3 0 0 1 3-3h10.600a3 3 0 0 1 3 3v5z"/></g></svg><span class="t blur" style="font-size:7px;top:318px;color:#4a4a4a;left:402px;transform-origin:0 50%;transform:translate(-0.15px,-3.20px) scaleX(0.999) rotate(.03deg);">Especasio</span><span class="t" style="font-size:7px;top:318px;color:#4a4a4a;right:282px;transform-origin:100% 50%;transform:translate(0.40px,-3.20px) scaleX(1.078) rotate(.03deg);">19/01/2022</span><span class="t" style="font-size:7px;top:318px;color:#4a4a4a;right:262px;transform-origin:100% 50%;transform:translate(0.35px,-3.20px) scaleX(1.000) rotate(.03deg);">0</span><span class="t" style="font-size:7px;top:318px;color:#4a4a4a;right:223px;transform-origin:100% 50%;transform:translate(0.85px,-3.20px) scaleX(1.000) rotate(.03deg);">0</span><span class="t" style="font-size:7px;top:318px;color:#4a4a4a;right:189px;transform-origin:100% 50%;transform:translate(0.95px,-3.20px) scaleX(1.030) rotate(.03deg);">0.00€</span><svg style="left:616px;top:313px" width="17" height="12"><rect x="1.40" y="1.50" width="14.00" height="8.30" rx="1.2" fill="#fff" stroke="#c8c8c8" stroke-width="0.5"/></svg><svg style="left:620.6px;top:315px" width="7.6" height="7.6" viewBox="0 0 24 24" class="ic" ><g fill="none" color="#7c7c7c" stroke="#7c7c7c" stroke-width="1.8" stroke-linecap="round" stroke-linejoin="round"><path d="M2.500 3h19l-7.500 9.500v8.500h-4v-8.500z"/></g></svg><svg style="left:372px;top:324px" width="264" height="2"><rect x="0.3" y="0.95" width="263.2" height="0.7" fill="#d2d2d2" /></svg><span class="t" style="font-size:7px;top:332px;color:#333;font-weight:700;left:378px;transform:translate(calc(-50% + 0.15px),-3.20px) scaleX(1.000) rotate(.03deg);">2</span><svg style="left:386px;top:327px" width="16" height="11"><rect x="1.30" y="1.75" width="12.20" height="7.50" rx="1.2" fill="#fff" stroke="#c8c8c8" stroke-width="0.5"/></svg><svg style="left:390.1px;top:329.3px" width="6.6" height="6.6" viewBox="0 0 24 24" class="ic" ><g fill="none" color="#707070" stroke="#707070" stroke-width="1.8" stroke-linecap="round" stroke-linejoin="round"><circle cx="12" cy="6" r="4.600"/><path d="M3.700 21v-5a3 3 0 0 1 3-3h10.600a3 3 0 0 1 3 3v5z"/></g></svg><span class="t blur" style="font-size:7px;top:332px;color:#4a4a4a;left:402px;transform-origin:0 50%;transform:translate(-0.15px,-3.20px) scaleX(0.938) rotate(.03deg);">UP JANÉ, SLU</span><span class="t" style="font-size:7px;top:332px;color:#4a4a4a;right:282px;transform-origin:100% 50%;transform:translate(0.40px,-3.20px) scaleX(1.078) rotate(.03deg);">17/01/2022</span><span class="t" style="font-size:7px;top:332px;color:#4a4a4a;right:262px;transform-origin:100% 50%;transform:translate(0.35px,-3.20px) scaleX(1.000) rotate(.03deg);">2</span><span class="t" style="font-size:7px;top:332px;color:#4a4a4a;right:223px;transform-origin:100% 50%;transform:translate(0.85px,-3.20px) scaleX(1.000) rotate(.03deg);">1</span><span class="t" style="font-size:7px;top:332px;color:#4a4a4a;right:189px;transform-origin:100% 50%;transform:translate(0.20px,-3.20px) scaleX(1.038) rotate(.03deg);">144.00€</span><svg style="left:616px;top:327px" width="17" height="12"><rect x="1.40" y="1.50" width="14.00" height="8.30" rx="1.2" fill="#fff" stroke="#c8c8c8" stroke-width="0.5"/></svg><svg style="left:620.6px;top:329px" width="7.6" height="7.6" viewBox="0 0 24 24" class="ic" ><g fill="none" color="#7c7c7c" stroke="#7c7c7c" stroke-width="1.8" stroke-linecap="round" stroke-linejoin="round"><path d="M2.500 3h19l-7.500 9.500v8.500h-4v-8.500z"/></g></svg><svg style="left:372px;top:338px" width="264" height="2"><rect x="0.3" y="0.95" width="263.2" height="0.7" fill="#d2d2d2" /></svg><span class="t" style="font-size:7px;top:346px;color:#333;font-weight:700;left:378px;transform:translate(calc(-50% + 0.15px),-3.20px) scaleX(1.000) rotate(.03deg);">3</span><svg style="left:386px;top:341px" width="16" height="11"><rect x="1.30" y="1.75" width="12.20" height="7.50" rx="1.2" fill="#fff" stroke="#c8c8c8" stroke-width="0.5"/></svg><svg style="left:390.1px;top:343.3px" width="6.6" height="6.6" viewBox="0 0 24 24" class="ic" ><g fill="none" color="#707070" stroke="#707070" stroke-width="1.8" stroke-linecap="round" stroke-linejoin="round"><circle cx="12" cy="6" r="4.600"/><path d="M3.700 21v-5a3 3 0 0 1 3-3h10.600a3 3 0 0 1 3 3v5z"/></g></svg><span class="t blur" style="font-size:7px;top:346px;color:#4a4a4a;left:402px;transform-origin:0 50%;transform:translate(-0.15px,-3.20px) scaleX(0.890) rotate(.03deg);">PROFESSIONAL GR...</span><span class="t" style="font-size:7px;top:346px;color:#4a4a4a;right:282px;transform-origin:100% 50%;transform:translate(0.40px,-3.20px) scaleX(1.078) rotate(.03deg);">12/01/2022</span><span class="t" style="font-size:7px;top:346px;color:#4a4a4a;right:262px;transform-origin:100% 50%;transform:translate(0.35px,-3.20px) scaleX(1.000) rotate(.03deg);">7</span><span class="t" style="font-size:7px;top:346px;color:#4a4a4a;right:223px;transform-origin:100% 50%;transform:translate(0.85px,-3.20px) scaleX(1.000) rotate(.03deg);">1</span><span class="t" style="font-size:7px;top:346px;color:#4a4a4a;right:189px;transform-origin:100% 50%;transform:translate(-0.05px,-3.20px) scaleX(1.023) rotate(.03deg);">22.50€</span><svg style="left:616px;top:341px" width="17" height="12"><rect x="1.40" y="1.50" width="14.00" height="8.30" rx="1.2" fill="#fff" stroke="#c8c8c8" stroke-width="0.5"/></svg><svg style="left:620.6px;top:343px" width="7.6" height="7.6" viewBox="0 0 24 24" class="ic" ><g fill="none" color="#7c7c7c" stroke="#7c7c7c" stroke-width="1.8" stroke-linecap="round" stroke-linejoin="round"><path d="M2.500 3h19l-7.500 9.500v8.500h-4v-8.500z"/></g></svg><svg style="left:372px;top:352px" width="264" height="2"><rect x="0.3" y="0.95" width="263.2" height="0.7" fill="#d2d2d2" /></svg><span class="t" style="font-size:7px;top:360px;color:#4a4a4a;right:263px;transform-origin:100% 50%;transform:translate(0.70px,-3.20px) scaleX(1.006) rotate(.03deg);">Total:</span><span class="t" style="font-size:7px;top:360px;color:#333;font-weight:700;right:222px;transform-origin:100% 50%;transform:translate(-0.25px,-3.20px) scaleX(1.000) rotate(.03deg);">2</span><span class="t" style="font-size:7px;top:360px;color:#333;font-weight:700;right:189px;transform-origin:100% 50%;transform:translate(0.20px,-3.20px) scaleX(1.059) rotate(.03deg);">166.50€</span><span class="t" style="font-size:7px;top:304px;color:#333;font-weight:700;left:656px;transform-origin:0 50%;transform:translate(-0.85px,-4.25px) scaleX(0.954) rotate(.03deg);">Família</span><span class="t" style="font-size:7px;top:304px;color:#333;font-weight:700;right:80px;transform-origin:100% 50%;transform:translate(0.20px,-4.25px) scaleX(0.936) rotate(.03deg);">Comandes</span><span class="t" style="font-size:7px;top:304px;color:#333;font-weight:700;right:48px;transform-origin:100% 50%;transform:translate(0.25px,-4.25px) scaleX(0.958) rotate(.03deg);">Total</span><svg style="left:641px;top:310px" width="135" height="2"><rect x="0.6" y="0.75" width="134" height="0.7" fill="#d2d2d2" /></svg><span class="t" style="font-size:7px;top:318px;color:#333;font-weight:700;left:647px;transform:translate(calc(-50% + -0.47px),-3.20px) scaleX(1.000) rotate(.03deg);">1</span><span class="t" style="font-size:7px;top:318px;color:#4a4a4a;left:656px;transform-origin:0 50%;transform:translate(-0.55px,-3.20px) scaleX(0.984) rotate(.03deg);">Serveis</span><span class="t" style="font-size:7px;top:318px;color:#4a4a4a;right:81px;transform-origin:100% 50%;transform:translate(-0.10px,-3.20px) scaleX(1.000) rotate(.03deg);">1</span><span class="t" style="font-size:7px;top:318px;color:#4a4a4a;right:48px;transform-origin:100% 50%;transform:translate(-0.45px,-3.20px) scaleX(1.018) rotate(.03deg);">144.00€</span><svg style="left:757px;top:313px" width="17" height="12"><rect x="1.40" y="1.50" width="14.00" height="8.30" rx="1.2" fill="#fff" stroke="#c8c8c8" stroke-width="0.5"/></svg><svg style="left:761.6px;top:315px" width="7.6" height="7.6" viewBox="0 0 24 24" class="ic" ><g fill="none" color="#7c7c7c" stroke="#7c7c7c" stroke-width="1.8" stroke-linecap="round" stroke-linejoin="round"><path d="M2.500 3h19l-7.500 9.500v8.500h-4v-8.500z"/></g></svg><svg style="left:641px;top:324px" width="135" height="2"><rect x="0.6" y="0.95" width="134" height="0.7" fill="#d2d2d2" /></svg><span class="t" style="font-size:7px;top:332px;color:#333;font-weight:700;left:647px;transform:translate(calc(-50% + -0.35px),-3.20px) scaleX(1.000) rotate(.03deg);">2</span><span class="t" style="font-size:7px;top:332px;color:#4a4a4a;left:656px;transform-origin:0 50%;transform:translate(-0.30px,-3.20px) scaleX(0.919) rotate(.03deg);">ALTRES</span><span class="t" style="font-size:7px;top:332px;color:#4a4a4a;right:81px;transform-origin:100% 50%;transform:translate(-0.10px,-3.20px) scaleX(1.000) rotate(.03deg);">1</span><span class="t" style="font-size:7px;top:332px;color:#4a4a4a;right:48px;transform-origin:100% 50%;transform:translate(-0.70px,-3.20px) scaleX(1.013) rotate(.03deg);">22.50€</span><svg style="left:757px;top:327px" width="17" height="12"><rect x="1.40" y="1.50" width="14.00" height="8.30" rx="1.2" fill="#fff" stroke="#c8c8c8" stroke-width="0.5"/></svg><svg style="left:761.6px;top:329px" width="7.6" height="7.6" viewBox="0 0 24 24" class="ic" ><g fill="none" color="#7c7c7c" stroke="#7c7c7c" stroke-width="1.8" stroke-linecap="round" stroke-linejoin="round"><path d="M2.500 3h19l-7.500 9.500v8.500h-4v-8.500z"/></g></svg><svg style="left:641px;top:338px" width="135" height="2"><rect x="0.6" y="0.95" width="134" height="0.7" fill="#d2d2d2" /></svg><span class="t" style="font-size:7px;top:346px;color:#4a4a4a;right:120px;transform-origin:100% 50%;transform:translate(1.00px,-3.20px) scaleX(1.042) rotate(.03deg);">Total:</span><span class="t" style="font-size:7px;top:346px;color:#333;font-weight:700;right:81px;transform-origin:100% 50%;transform:translate(0.25px,-3.20px) scaleX(1.000) rotate(.03deg);">2</span><span class="t" style="font-size:7px;top:346px;color:#4a4a4a;right:48px;transform-origin:100% 50%;transform:translate(-0.45px,-3.20px) scaleX(1.018) rotate(.03deg);">166.50€</span><svg style="left:0;top:420px" width="800" height="18"><defs><linearGradient id="bg" x1="0" x2="1" y1="0" y2="0"><stop offset="0" stop-color="#0f3a5d"/><stop offset="0.3" stop-color="#0e3659"/><stop offset="0.55" stop-color="#0b3055"/><stop offset="0.7" stop-color="#0a3c68"/><stop offset="0.86" stop-color="#0a4a7d"/><stop offset="1" stop-color="#0a4d84"/></linearGradient><linearGradient id="sg" x1="0" x2="1" y1="0" y2="0"><stop offset="0" stop-color="#0c2b49"/><stop offset="1" stop-color="#081e35"/></linearGradient></defs><rect x="0" y="-0.3" width="800" height="19" fill="url(#bg)"/><rect x="134" y="-0.600" width="666" height="2.200" fill="#f8f8fb"/><rect x="134" y="1.600" width="666" height="0.400" fill="#8fa3b8"/><rect x="706.5" y="1.700" width="86.8" height="18" fill="url(#sg)"/><rect x="793.2" y="1.700" width="0.6" height="18" fill="#5d8fc0"/></svg><span class="t" style="font-size:7px;top:434px;color:#4c6480;left:712px;transform-origin:0 50%;transform:translate(-0.25px,-3.90px) scaleX(0.964) rotate(.03deg);">Cercar</span><svg style="left:2.75px;top:426.55px" width="11.5" height="11.5" viewBox="0 0 24 24" class="ic" ><g fill="none" color="#ffffff" stroke="#ffffff" stroke-width="1.6" stroke-linecap="round" stroke-linejoin="round"><path d="M1.500 6v13.500h21.500"/><path d="M5.500 15l4.500-4 3.500 2.700 6-6"/><path d="M16 7.200h4v4"/></g></svg><span class="t m" style="font-size:7.3px;top:434px;color:#ffffff;left:17px;transform-origin:0 50%;transform:translate(-0.45px,-3.90px) scaleX(0.973) rotate(.03deg);">Estadístiques clients potencials</span><svg style="left:130.8px;top:425.8px" width="12" height="12" viewBox="0 0 24 24" class="ic" ><g fill="none" color="#ffffff" stroke="#ffffff" stroke-width="1.5" stroke-linecap="round" stroke-linejoin="round"><rect x="6" y="2" width="16" height="12"/><path d="M9 9l3-3 2 2 4-3"/><circle cx="6" cy="14" r="2.5"/><path d="M1.5 22v-2a3 3 0 0 1 3-3h3a3 3 0 0 1 3 3v2z"/></g></svg><span class="t m" style="font-size:7.3px;top:434px;color:#ffffff;left:146px;transform-origin:0 50%;transform:translate(-0.50px,-3.90px) scaleX(0.963) rotate(.03deg);">Panell de clients potencials</span><svg style="left:245.5px;top:425.8px" width="12" height="12" viewBox="0 0 24 24" class="ic" ><g fill="none" color="#ffffff" stroke="#ffffff" stroke-width="1.5" stroke-linecap="round" stroke-linejoin="round"><circle cx="8.600" cy="5.400" r="4.600"/><path d="M0.800 19.800v-4.600a3 3 0 0 1 3-3h10.600a3 3 0 0 1 3 3v4.600z"/><path d="M20.800 6.700v5.800M17.900 9.600h5.800"/></g></svg><span class="t m" style="font-size:7.3px;top:434px;color:#ffffff;left:261px;transform-origin:0 50%;transform:translate(-0.25px,-3.90px) scaleX(0.970) rotate(.03deg);">Clients potencials</span><svg style="left:329.75px;top:426.55px" width="11.5" height="11.5" viewBox="0 0 24 24" class="ic" ><g fill="none" color="#ffffff" stroke="#ffffff" stroke-width="1.6" stroke-linecap="round" stroke-linejoin="round"><path d="M1.500 6v13.500h21.500"/><path d="M5.500 15l4.500-4 3.500 2.700 6-6"/><path d="M16 7.200h4v4"/></g></svg><span class="t m" style="font-size:7.3px;top:434px;color:#ffffff;left:344px;transform-origin:0 50%;transform:translate(-0.45px,-3.90px) scaleX(0.973) rotate(.03deg);">Estadístiques clients potencials</span></body></html>
